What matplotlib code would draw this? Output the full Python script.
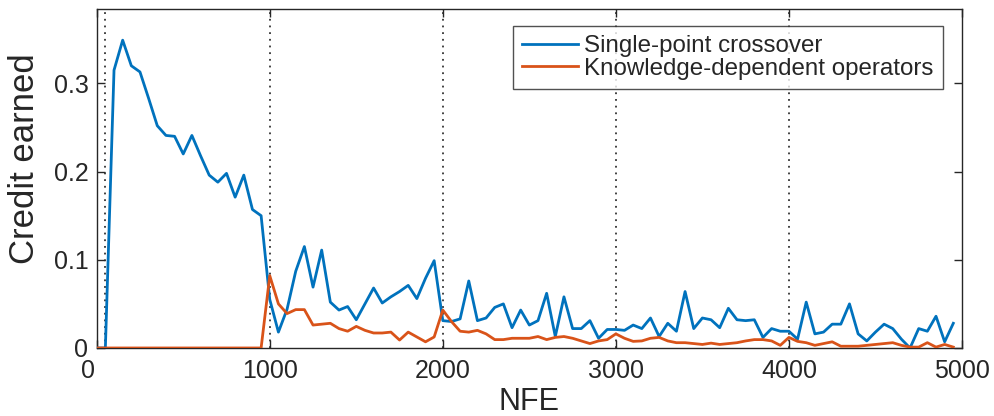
import matplotlib
matplotlib.use("Agg")
import matplotlib.pyplot as plt
from matplotlib.transforms import ScaledTranslation

# Credit earned per 50-NFE window
nfe = list(range(0, 5000, 50))

single_point = [
    0.000, 0.000, 0.315, 0.349, 0.320, 0.313, 0.283, 0.252, 0.241, 0.240,
    0.220, 0.241, 0.218, 0.196, 0.188, 0.198, 0.171, 0.196, 0.157, 0.150,
    0.055, 0.018, 0.044, 0.087, 0.115, 0.069, 0.111, 0.052, 0.043, 0.047,
    0.032, 0.050, 0.068, 0.051, 0.058, 0.064, 0.071, 0.056, 0.079, 0.099,
    0.031, 0.030, 0.033, 0.076, 0.031, 0.034, 0.046, 0.050, 0.023, 0.043,
    0.026, 0.031, 0.062, 0.013, 0.058, 0.022, 0.022, 0.031, 0.011, 0.021,
    0.021, 0.020, 0.026, 0.022, 0.034, 0.013, 0.028, 0.019, 0.064, 0.022,
    0.034, 0.032, 0.023, 0.045, 0.032, 0.031, 0.032, 0.012, 0.022, 0.019,
    0.019, 0.010, 0.052, 0.016, 0.018, 0.027, 0.027, 0.050, 0.016, 0.008,
    0.018, 0.027, 0.022, 0.010, 0.000, 0.022, 0.019, 0.036, 0.007, 0.028,
]

knowledge_dep = [
    0.000, 0.000, 0.000, 0.000, 0.000, 0.000, 0.000, 0.000, 0.000, 0.000,
    0.000, 0.000, 0.000, 0.000, 0.000, 0.000, 0.000, 0.000, 0.000, 0.000,
    0.082, 0.050, 0.039, 0.0435, 0.0435, 0.026, 0.027, 0.028, 0.022, 0.019,
    0.0245, 0.020, 0.017, 0.017, 0.018, 0.009, 0.018, 0.0125, 0.007, 0.0125,
    0.043, 0.030, 0.019, 0.018, 0.020, 0.016, 0.0095, 0.0095, 0.011, 0.011,
    0.011, 0.013, 0.0095, 0.012, 0.013, 0.011, 0.008, 0.005, 0.008, 0.0095,
    0.016, 0.011, 0.0075, 0.008, 0.011, 0.012, 0.008, 0.006, 0.006, 0.005,
    0.004, 0.0055, 0.004, 0.005, 0.006, 0.008, 0.0095, 0.0095, 0.008, 0.003,
    0.012, 0.0075, 0.006, 0.003, 0.005, 0.007, 0.002, 0.002, 0.002, 0.003,
    0.004, 0.005, 0.006, 0.003, 0.001, 0.001, 0.006, 0.001, 0.004, 0.001,
]

epoch_marks = [50, 1000, 2000, 3000, 4000]
series_labels = ["Single-point crossover", "Knowledge-dependent operators"]
x_ticks = [0, 1000, 2000, 3000, 4000, 5000]
y_ticks = [0, 0.1, 0.2, 0.3]

plt.rcParams["font.family"] = ["Liberation Sans", "DejaVu Sans"]
dark = "#262626"

fig = plt.figure(figsize=(9.95, 4.16), dpi=100)
ax = fig.add_axes([0.0972, 0.1635, 0.8696, 0.8141])

for xm in epoch_marks:
    ax.axvline(xm, color="#333333", linestyle=(0, (1, 2.7)), linewidth=1.3, zorder=1)

ax.plot(nfe, single_point, color="#0072BD", linewidth=2.0, label=series_labels[0], zorder=3)
ax.plot(nfe, knowledge_dep, color="#D95319", linewidth=2.0, label=series_labels[1], zorder=3)

ax.set_xlim(0, 5000)
ax.set_ylim(0, 0.384)
ax.set_xticks(x_ticks)
ax.set_xticklabels([str(v) for v in x_ticks])
ax.set_yticks(y_ticks)
ax.set_yticklabels(["0", "0.1", "0.2", "0.3"])

ax.tick_params(direction="in", length=6, width=1.0, colors=dark,
               labelsize=18, top=True, right=True)
ax.tick_params(axis="x", pad=8)
ax.tick_params(axis="y", pad=6)
for sp in ax.spines.values():
    sp.set_color(dark)
    sp.set_linewidth(1.0)

ax.set_xlabel("NFE", fontsize=22, color=dark, labelpad=3)
ax.set_ylabel("Credit earned", fontsize=25, color=dark)
ax.yaxis.set_label_coords(-0.0647, 0.558)

# nudge the corner "0" of the x axis left, beneath the y-axis "0"
first_xlabel = ax.xaxis.get_major_ticks()[0].label1
first_xlabel.set_transform(first_xlabel.get_transform()
                           + ScaledTranslation(-9 / 100, 0, fig.dpi_scale_trans))

leg = ax.legend(loc="upper right", bbox_to_anchor=(0.978, 0.952),
                borderaxespad=0, fontsize=17.35, frameon=True, fancybox=False,
                handlelength=2.3, handletextpad=0.25, borderpad=0.4,
                labelspacing=0.02)
leg.get_frame().set_edgecolor(dark)
leg.get_frame().set_linewidth(1.0)
for t in leg.get_texts():
    t.set_color(dark)

fig.savefig("out.png", dpi=100)
